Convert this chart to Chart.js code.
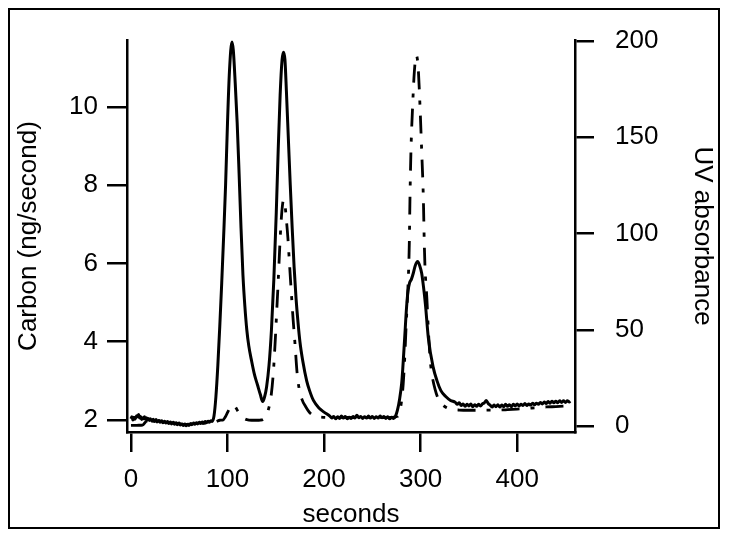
<!DOCTYPE html>
<html>
<head>
<meta charset="utf-8">
<style>
  html, body { margin: 0; padding: 0; background: #fff; }
  #wrap { position: relative; width: 729px; height: 538px; }
  #frame { position: absolute; left: 8px; top: 8px; width: 708px; height: 517px; border: 2px solid #000; pointer-events: none; }
</style>
<script src="https://cdn.jsdelivr.net/npm/chart.js@4.4.1/dist/chart.umd.min.js"></script>
</head>
<body>
<div id="wrap">
  <canvas id="chromChart" width="729" height="538"></canvas>
  <div id="frame"></div>
</div>
<script>
// carbon detector trace (left axis, ng/second)
var carbonSeconds = [0, 1, 2, 3, 4, 5, 6, 7, 8, 9, 10, 11, 12, 13, 14, 15, 16, 17, 18, 19, 20, 22, 23, 24, 26, 27, 29, 30, 32, 33, 35, 36, 38, 39,
  41, 42, 44, 45, 47, 48, 50, 51, 53, 54, 56, 57, 59, 60, 62, 63, 65, 66, 68, 69, 71, 72, 74, 75, 77, 78, 80, 81, 83, 84,
  86, 88, 90, 92, 94, 96, 98, 100, 102, 104.6, 106, 108, 110, 112, 114, 116, 118, 120, 122, 125, 128, 131, 134, 136.4,
  138.5, 140.5, 143, 145.5, 148, 150.5, 152.5, 154.5, 156.5, 158, 159.5, 161, 163, 165, 167, 169, 171, 173, 175, 178, 182, 185, 189, 195, 200,
  206, 208, 210, 212, 214, 216, 218, 220, 222, 224, 226, 228, 230, 232, 234, 236, 238, 240, 242, 244, 246, 248, 250, 252, 254, 256, 258, 260,
  262, 264, 266, 268, 270, 272, 274,
  276, 278, 280.4, 281.5, 283.5, 285.5, 287, 288.5, 290.5, 292.4, 294.5, 296.9, 299, 301.1, 303, 305, 308, 313, 317, 321, 326, 331,
  336, 338, 340, 342, 344, 346, 348, 350, 352, 354, 356, 358, 360, 362, 364, 366, 368, 370, 372, 374, 376, 378, 380, 382, 384, 386, 388, 390,
  392, 394, 396, 398, 400, 402, 404, 406, 408, 410, 412, 414, 416, 418, 420, 422, 424, 426, 428, 430, 432, 434, 436, 438, 440, 442, 444, 446,
  448, 450, 452, 454, 455];
var carbon = [2.03, 2.08, 2.00, 2.07, 2.02, 2.06, 2.11, 2.08, 2.14, 2.05, 2.09, 2.01, 2.06, 2.03, 2.08, 2.02, 2.06, 2.00, 2.04, 1.99, 2.03, 1.97, 2.02, 1.96, 2.01, 1.95, 1.99, 1.94, 1.98, 1.93, 1.97, 1.92, 1.96, 1.91,
  1.95, 1.90, 1.94, 1.89, 1.93, 1.88, 1.92, 1.87, 1.90, 1.86, 1.90, 1.85, 1.89, 1.86, 1.91, 1.88, 1.92, 1.89, 1.93, 1.90, 1.94, 1.91, 1.95, 1.92, 1.96, 1.93, 1.97, 1.94, 1.98, 1.96,
  2.1, 2.6, 3.4, 4.4, 5.5, 6.7, 8.0, 9.6, 10.9, 11.66, 11.45, 10.6, 9.6, 8.3, 6.9, 5.7, 4.9, 4.3, 3.9, 3.5, 3.15, 2.9, 2.65, 2.47,
  2.6, 2.85, 3.4, 4.3, 5.6, 7.3, 8.9, 10.3, 11.2, 11.4, 11.2, 10.4, 9.2, 8.0, 6.9, 5.9, 5.1, 4.5, 4.0, 3.5, 3.0, 2.75, 2.5, 2.3, 2.2,
  2.10, 2.05, 2.09, 2.03, 2.08, 2.04, 2.10, 2.05, 2.09, 2.03, 2.07, 2.04, 2.09, 2.05, 2.12, 2.06, 2.09, 2.04, 2.08, 2.05, 2.10, 2.05, 2.09, 2.04, 2.08, 2.05, 2.10, 2.06,
  2.09, 2.04, 2.08, 2.03, 2.07, 2.04, 2.10,
  2.25, 2.5, 2.94, 3.3, 4.1, 4.9, 5.3, 5.5, 5.6, 5.75, 5.95, 6.05, 5.95, 5.75, 5.4, 4.95, 4.1, 3.35, 3.0, 2.75, 2.6, 2.5,
  2.45, 2.40, 2.44, 2.37, 2.41, 2.35, 2.40, 2.36, 2.41, 2.34, 2.39, 2.35, 2.40, 2.36, 2.41, 2.44, 2.50, 2.42, 2.38, 2.33, 2.38, 2.34, 2.39, 2.33, 2.38, 2.34, 2.40, 2.35,
  2.39, 2.34, 2.40, 2.36, 2.41, 2.36, 2.40, 2.37, 2.42, 2.37, 2.41, 2.38, 2.43, 2.39, 2.43, 2.40, 2.45, 2.41, 2.46, 2.42, 2.47, 2.43, 2.48, 2.44, 2.48, 2.44, 2.49, 2.45,
  2.49, 2.45, 2.49, 2.46, 2.48];

// UV absorbance trace (right axis)
var uvSeconds = [0, 4, 8, 12, 16, 25, 35, 45, 55, 65, 75, 85,
  88, 92, 95, 98, 101, 104, 106, 108, 111, 114, 117, 120, 125, 130, 134, 137, 140, 142, 145, 147.5, 149.5, 151, 152.5, 154, 155.5, 157, 158, 159.5,
  161, 162.5, 164, 166, 168, 170, 172, 174, 177, 181, 185, 189, 195, 200, 210, 220, 230, 240, 250, 260, 270,
  274, 276, 278, 280, 282, 283.5, 285, 286.5, 287.5, 288.3, 289, 290, 291.8, 293.5, 295.6, 297.5, 299.3, 301.1, 302.8, 303.8, 304.5,
  306.5, 308, 310, 312, 315, 318, 322, 327, 333, 340, 350, 360, 370, 380, 390, 400, 410, 420, 430, 440, 452];
var uvAbsorbance = [0.3, 0.3, 0.4, 0.5, 2.5, 3.0, 2.0, 1.5, 0.8, 1.0, 1.4, 2.0,
  2.2, 3.0, 3.1, 5, 8, 10.5, 11, 10, 7.5, 5.5, 4, 3.3, 3, 3, 3.1, 3.5, 5, 8, 15, 28, 45, 60, 75, 92, 106, 115, 117.5, 115,
  107, 98, 86, 70, 55, 42, 28, 20, 14, 10, 7, 5.5, 4.7, 4.5, 4.4, 4.5, 4.4, 4.5, 4.5, 4.4, 4.5,
  4.8, 5, 7, 12, 22, 35, 52, 68, 80, 95, 119, 143, 167, 184, 192.5, 186, 167, 143, 119, 95, 83,
  66, 50, 34, 26, 19, 14.5, 11.5, 9.5, 8.6, 8.3, 8.2, 8.2, 8.3, 8.3, 8.5, 8.8, 9.2, 9.5, 9.9, 10.1, 10.4];

var secondTicks = [0, 100, 200, 300, 400];
var carbonTicks = [2, 4, 6, 8, 10];
var uvTicks = [0, 50, 100, 150, 200];

window.onload = function () {
    var font = { family: "'Liberation Sans', Arial, Helvetica, sans-serif", size: 26, lineHeight: 1.2 };
    var black = '#000';

    function fixedTicks(list) {
        return function (axis) {
            axis.ticks = list.map(function (v) { return { value: v }; });
        };
    }

    var carbonPoints = carbonSeconds.map(function (s, i) { return { x: s, y: carbon[i] }; });
    var uvPoints = uvSeconds.map(function (s, i) { return { x: s, y: uvAbsorbance[i] }; });

    var ctx = document.getElementById('chromChart').getContext('2d');
    var chart = new Chart(ctx, {
        type: 'line',
        data: {
            datasets: [{
                label: 'Carbon',
                data: carbonPoints,
                yAxisID: 'y',
                borderColor: black,
                borderWidth: 3,
                pointRadius: 0,
                cubicInterpolationMode: 'monotone',
                fill: false
            }, {
                label: 'UV absorbance',
                data: uvPoints,
                yAxisID: 'y1',
                borderColor: black,
                borderWidth: 2.8,
                borderDash: [18, 11, 4, 11],
                pointRadius: 0,
                cubicInterpolationMode: 'monotone',
                fill: false
            }]
        },
        options: {
            responsive: false,
            animation: false,
            devicePixelRatio: 1,
            layout: { padding: { top: 40, left: 0, right: 0, bottom: 0 } },
            plugins: { legend: { display: false }, tooltip: { enabled: false } },
            scales: {
                x: {
                    type: 'linear',
                    min: -4.1,
                    max: 459.9,
                    afterBuildTicks: fixedTicks(secondTicks),
                    afterFit: function (s) { s.height = 106; },
                    grid: { drawOnChartArea: false, tickLength: 20, lineWidth: 2.5, tickWidth: 2.5, tickColor: black },
                    border: { display: true, color: black, width: 2.5 },
                    ticks: { color: black, font: font, padding: 12, maxRotation: 0 },
                    title: { display: true, text: 'seconds', color: black, font: font, padding: { top: 0, bottom: 8 } }
                },
                y: {
                    position: 'left',
                    min: 1.693,
                    max: 11.71,
                    afterBuildTicks: fixedTicks(carbonTicks),
                    afterFit: function (s) { s.width = 127; },
                    grid: { drawOnChartArea: false, tickLength: 20, lineWidth: 2.5, tickWidth: 2.5, tickColor: black },
                    border: { display: true, color: black, width: 2.5 },
                    ticks: { color: black, font: font, padding: 9 },
                    title: { display: true, text: 'Carbon (ng/second)', color: black, font: font, padding: { top: 13, bottom: 0 } }
                },
                y1: {
                    position: 'right',
                    min: -3.1,
                    max: 200.5,
                    afterBuildTicks: fixedTicks(uvTicks),
                    afterFit: function (s) { s.width = 154; },
                    grid: { drawOnChartArea: false, tickLength: 19, lineWidth: 2.5, tickWidth: 2.5, tickColor: black },
                    border: { display: true, color: black, width: 2.5 },
                    ticks: { color: black, font: font, padding: 21 },
                    title: { display: true, text: 'UV absorbance', color: black, font: font, padding: { top: 11, bottom: 0 } }
                }
            }
        }
    });
};
</script>
</body>
</html>
